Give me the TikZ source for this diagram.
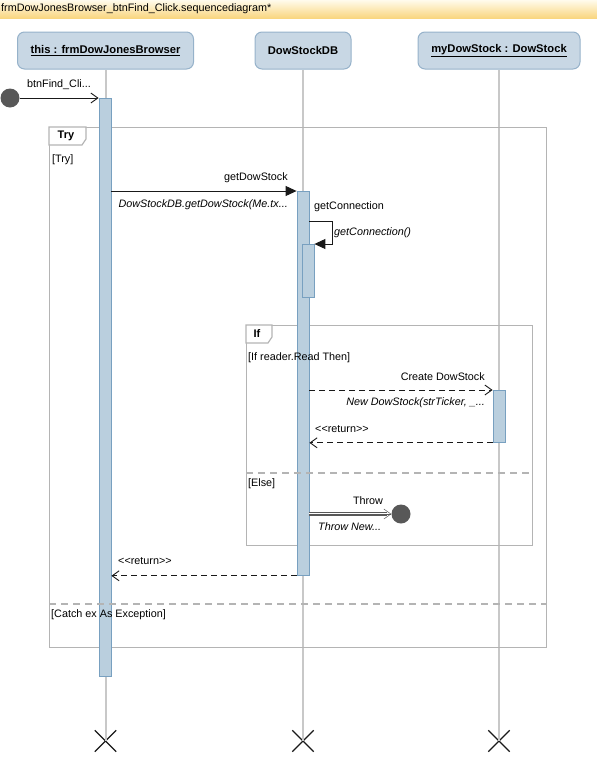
\documentclass[tikz,border=0pt]{standalone}
\usepackage{fontspec}
\setmainfont{Liberation Sans}
\usetikzlibrary{arrows.meta,shapes.misc,calc}
\definecolor{headfill}{RGB}{200,215,228}
\definecolor{headdraw}{RGB}{150,178,202}
\definecolor{barfill}{RGB}{186,207,222}
\definecolor{bardraw}{RGB}{120,160,192}
\definecolor{lifecol}{RGB}{200,200,200}
\definecolor{framecol}{RGB}{180,180,180}
\definecolor{dotcol}{RGB}{88,88,88}
\definecolor{titletop}{RGB}{255,251,236}
\definecolor{titlemid}{RGB}{253,236,185}
\definecolor{titlebot}{RGB}{249,214,128}
\definecolor{inkcol}{RGB}{25,25,25}
\begin{document}
\begin{tikzpicture}[x=1pt,y=-1pt,
  font=\fontsize{10.8}{12}\selectfont,
  head/.style={draw=headdraw,fill=headfill,rounded corners=7pt,line width=1pt,minimum height=37pt,inner sep=0pt,font=\fontsize{11.2}{12}\selectfont\bfseries},
  bar/.style={draw=bardraw,fill=barfill,minimum width=12pt,inner sep=0pt,line width=0.8pt,anchor=north},
  lifeline/.style={draw=lifecol,line width=2pt},
  xmark/.style={cross out,draw=inkcol,line width=1.3pt,minimum size=20pt,inner sep=0pt},
  dot/.style={circle,fill=dotcol,minimum size=19pt,inner sep=0pt},
  msg/.style={draw=inkcol,line width=0.9pt},
  opentip/.style={-{Straight Barb[length=7pt,width=10pt]}},
  filltip/.style={-{Triangle[length=11pt,width=10pt]}},
  dashpat/.style={dash pattern=on 6pt off 4pt},
  frame/.style={draw=framecol,line width=1.2pt,inner sep=0pt,anchor=north west},
  tabshape/.style={draw=framecol,fill=white,line width=1.2pt},
  sep/.style={draw=framecol,line width=1.2pt,dash pattern=on 7pt off 5pt},
  lbl/.style={inner sep=0pt},
  ital/.style={inner sep=0pt,font=\fontsize{10.8}{12}\selectfont\itshape}
]
\useasboundingbox (0,0) rectangle (597,774);
% title bar
\shade[top color=titletop, middle color=titlemid, bottom color=titlebot] (0,0) rectangle (597,18);
\node[lbl,anchor=west] (title) at (1,9) {frmDowJonesBrowser\_btnFind\_Click.sequencediagram*};

% headers
\node[head,minimum width=176pt] (h1) at (105.5,50.5) {\underline{this : frmDowJonesBrowser}};
\node[head,minimum width=96pt] (h2) at (303,50.5) {DowStockDB};
\node[head,minimum width=162pt] (h3) at (499,50.5) {\underline{myDowStock : DowStock}};

% destruction marks
\node[xmark] (x1) at (105.5,741) {};
\node[xmark] (x2) at (303,741) {};
\node[xmark] (x3) at (499,741) {};

% lifelines
\draw[lifeline] (h1.south) -- (x1.center);
\draw[lifeline] (h2.south) -- (x2.center);
\draw[lifeline] (h3.south) -- (x3.center);

% fragments (frames)
\node[frame,minimum width=497pt,minimum height=520pt] (try) at (49,127) {};
\node[frame,minimum width=286pt,minimum height=220pt] (iff) at (246,325) {};

% activation bars
\node[bar,minimum height=578pt] (b1) at (105,98) {};
\node[bar,minimum height=384pt] (b2) at (303,191) {};
\node[bar,minimum height=53pt] (b2n) at (308,244) {};
\node[bar,minimum height=52pt] (b3) at (499,390) {};

% fragment tabs and separators
\draw[tabshape] (try.north west) -- ++(37,0) -- ++(0,12) -- ++(-4,6) -- ++(-33,0) -- cycle;
\node[lbl,font=\fontsize{11}{12}\selectfont\bfseries] (trylbl) at (66,136) {Try};
\draw[tabshape] (iff.north west) -- ++(26,0) -- ++(0,12) -- ++(-4,6) -- ++(-22,0) -- cycle;
\node[lbl,font=\fontsize{11}{12}\selectfont\bfseries] (iflbl) at (257,334) {If};
\coordinate (catchy) at (0,604);
\coordinate (elsey) at (0,473);
\draw[sep] (try.west |- catchy) -- (try.east |- catchy);
\draw[sep] (iff.west |- elsey) -- (iff.east |- elsey);

% guards
\node[lbl,anchor=west] (gtry) at (52,160) {[Try]};
\node[lbl,anchor=west] (gif) at (248,358) {[If reader.Read Then]};
\node[lbl,anchor=west] (gelse) at (248,484) {[Else]};
\node[lbl,anchor=west] (gcatch) at (51,615) {[Catch ex As Exception]};

% start and throw end points
\node[dot] (start) at (10,98) {};
\node[dot] (thr) at (401,514) {};

% messages
\draw[msg,opentip] (start) -- (b1.north west);
\node[lbl,anchor=west] (m0) at (27,85) {btnFind\_Cli...};

\draw[msg,filltip] (b1.east |- b2.north) -- (b2.north west);
\node[lbl,anchor=east] (m1) at (288,178) {getDowStock};
\node[ital,anchor=east] (m1b) at (288,205) {DowStockDB.getDowStock(Me.tx...};

\draw[msg,filltip] ($(b2.east |- b2n.north)+(0,-23)$) -- ++(23,0) |- (b2n.north east);
\node[lbl,anchor=west] (m2) at (314,207) {getConnection};
\node[ital,anchor=west] (m2b) at (334,233) {getConnection()};

\draw[msg,dashpat,opentip] (b2.east |- b3.north) -- (b3.north west);
\node[lbl,anchor=east] (m3) at (485,377) {Create DowStock};
\node[ital,anchor=east] (m3b) at (485,403) {New DowStock(strTicker, \_...};

\draw[msg,dashpat,opentip] (b3.south west) -- (b2.east |- b3.south);
\node[lbl,anchor=west] (m4) at (315,429) {<{}<return>{}>};

\draw[draw=dotcol,double=white,double distance=2.2pt,line width=0.8pt] (b2.east |- thr) -- ([xshift=-4pt]thr.west);
\draw[draw=dotcol,line width=0.5pt,opentip] (b2.east |- thr) -- (thr.west);
\node[lbl] (m5) at (368,501) {Throw};
\node[ital,anchor=west] (m5b) at (318,527) {Throw New...};

\draw[msg,dashpat,opentip] (b2.south west) -- (b1.east |- b2.south);
\node[lbl,anchor=west] (m6) at (118,561) {<{}<return>{}>};
\end{tikzpicture}
\end{document}
